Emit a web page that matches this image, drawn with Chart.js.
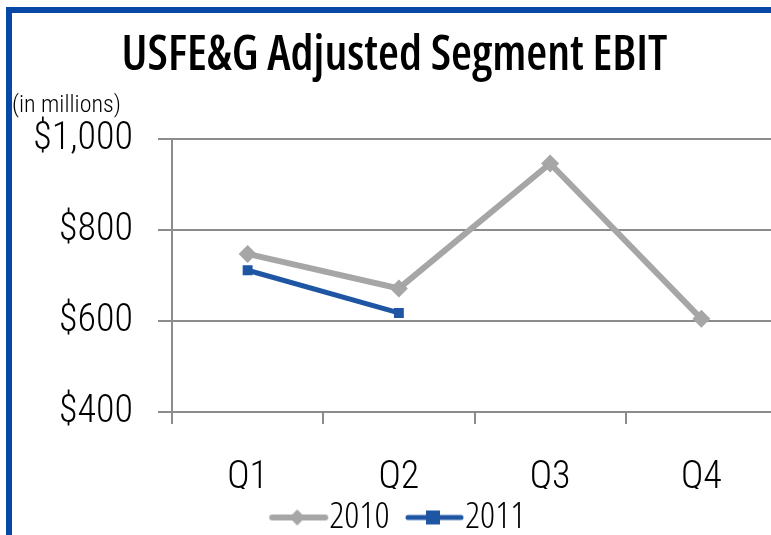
<!DOCTYPE html>
<html>
<head>
<meta charset="utf-8">
<script src="https://cdn.jsdelivr.net/npm/chart.js@4.4.1/dist/chart.umd.min.js"></script>
<style>
  html, body { margin: 0; padding: 0; background: #fff; overflow: hidden; }
  #frame { position: absolute; left: 6px; top: 7px; width: 800px; height: 560px;
           border-left: 6px solid #0747A6; border-top: 6px solid #0747A6; }
  #wrap { position: absolute; left: 0; top: 0; width: 790px; height: 546px; }
</style>
</head>
<body>
<div id="frame"></div>
<div id="wrap"><canvas id="myChart"></canvas></div>
<script>
const quarters = ['Q1', 'Q2', 'Q3', 'Q4'];
const ebit2010 = [748, 672, 947, 605];
const ebit2011 = [712, 618, null, null];
const yTicks = [400, 600, 800, 1000];

const TITLE_FONT = "'Open Sans', sans-serif";
const FONT = "'Roboto Condensed', 'Roboto', sans-serif";
const GRAY = '#A6A6A6';
const BLUE = '#1F56A3';
const GRID = '#8C8C8C';

// line + marker picture for the legend (line sits right of the canvas centre)
function legendIcon(color, lineW, style, r) {
    const c = document.createElement('canvas');
    c.width = 120; c.height = 24;
    const g = c.getContext('2d');
    g.strokeStyle = color; g.lineWidth = lineW; g.lineCap = 'round';
    g.beginPath(); g.moveTo(45, 12); g.lineTo(98, 12); g.stroke();
    g.fillStyle = color;
    if (style === 'rectRot') {
        g.beginPath(); g.moveTo(70, 12 - r); g.lineTo(70 + r, 12); g.lineTo(70, 12 + r); g.lineTo(70 - r, 12); g.closePath(); g.fill();
    } else {
        g.fillRect(70 - r, 12 - r, 2 * r, 2 * r);
    }
    return c;
}

document.addEventListener('DOMContentLoaded', () => {
    const ctx = document.getElementById('myChart').getContext('2d');
    const icons = [legendIcon(GRAY, 6, 'rectRot', 8), legendIcon(BLUE, 5, 'rect', 7)];

    new Chart(ctx, {
        type: 'line',
        data: {
            labels: quarters,
            datasets: [{
                label: '2010',
                data: ebit2010,
                borderColor: GRAY,
                backgroundColor: GRAY,
                borderWidth: 6,
                pointStyle: 'rectRot',
                pointRadius: 9,
                pointHoverRadius: 9,
                pointBorderWidth: 0
            }, {
                label: '2011',
                data: ebit2011,
                borderColor: BLUE,
                backgroundColor: BLUE,
                borderWidth: 5,
                pointStyle: 'rect',
                pointRadius: 7,
                pointHoverRadius: 7,
                pointBorderWidth: 0
            }]
        },
        options: {
            responsive: true,
            maintainAspectRatio: false,
            animation: false,
            layout: { padding: { left: 12, right: 13, top: 0, bottom: 0 } },
            plugins: {
                title: {
                    display: true,
                    text: 'USFE&G Adjusted Segment EBIT',
                    color: '#000',
                    font: { family: TITLE_FONT, size: 48, weight: '600 condensed' },
                    padding: { top: 28, bottom: 4 }
                },
                subtitle: {
                    display: true,
                    text: '(in millions)',
                    align: 'start',
                    color: '#000',
                    font: { family: FONT, size: 24, weight: '300 condensed' },
                    padding: { top: 2, bottom: 19 }
                },
                legend: {
                    position: 'bottom',
                    labels: {
                        usePointStyle: true,
                        pointStyleWidth: 47,
                        color: '#000',
                        font: { family: TITLE_FONT, size: 37, weight: '300 condensed' },
                        padding: 10,
                        generateLabels: (chart) => chart.data.datasets.map((ds, i) => ({
                            text: ds.label,
                            pointStyle: icons[i],
                            fillStyle: ds.borderColor,
                            strokeStyle: ds.borderColor,
                            lineWidth: 0,
                            datasetIndex: i,
                            hidden: false
                        }))
                    }
                },
                tooltip: { enabled: false }
            },
            scales: {
                x: {
                    offset: true,
                    afterFit: (scale) => { scale.height = 77; },
                    grid: { display: true, drawOnChartArea: false, offset: true, color: GRID, lineWidth: 2, tickLength: 12 },
                    border: { color: GRID, width: 2 },
                    ticks: { color: '#000', font: { family: FONT, size: 38, weight: '300 condensed' }, padding: 32 }
                },
                y: {
                    min: 400,
                    max: 1000,
                    afterBuildTicks: (scale) => { scale.ticks = yTicks.map(v => ({ value: v })); },
                    afterFit: (scale) => { scale.width = 160; },
                    grid: { color: GRID, lineWidth: 2, tickLength: 14 },
                    border: { color: GRID, width: 2 },
                    ticks: {
                        color: '#000',
                        font: { family: FONT, size: 38, weight: '300 condensed' },
                        padding: 25,
                        callback: (v) => '$' + v.toLocaleString('en-US')
                    }
                }
            }
        }
    });
});
</script>
</body>
</html>
